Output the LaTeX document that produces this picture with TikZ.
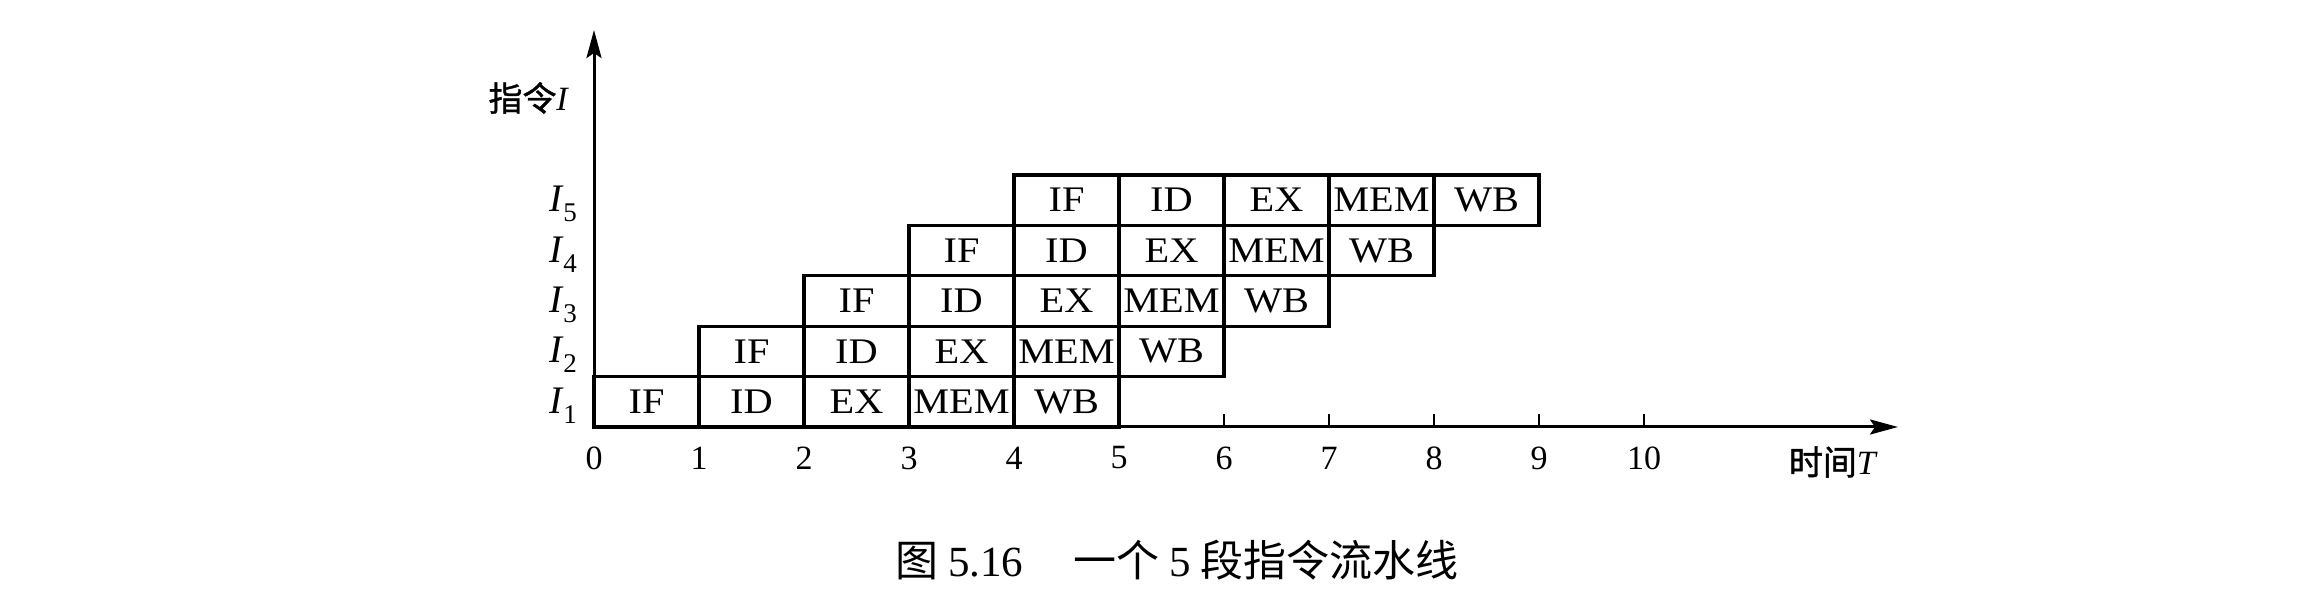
\documentclass[tikz,border=0pt]{standalone}
\usepackage{fontspec}
\setmainfont{Liberation Serif}
\newfontfamily\cjk{Noto Sans CJK SC}
\newfontfamily\cjkb{Noto Sans CJK SC}[FakeBold=1.2]
\newfontfamily\boxfont{Liberation Serif}[FakeStretch=1.12]
\usetikzlibrary{arrows.meta}
\begin{document}
\begin{tikzpicture}[x=1pt,y=-1pt,
  stagebox/.style={draw, line width=3.2pt, minimum width=105pt, minimum height=50.4pt,
    inner sep=0pt, outer sep=0pt, font=\fontsize{36}{36}\boxfont},
  axisline/.style={line width=3pt, -{Stealth[length=28pt,width=15pt,inset=5pt]}},
  tickline/.style={line width=2.5pt},
  ticklabel/.style={font=\fontsize{34}{34}\selectfont, inner sep=0pt},
  cnlabel/.style={font=\fontsize{34}{34}\cjkb, inner sep=0pt},
  rowlabel/.style={font=\fontsize{39}{39}\selectfont, inner sep=0pt, anchor=east},
  caption/.style={font=\fontsize{43}{43}\selectfont, inner sep=0pt, anchor=west}]
\useasboundingbox[fill=white] (0,0) rectangle (2322,593);
% stage boxes
\foreach \i in {1,...,5}{
  \foreach \s [count=\j from 0] in {IF,ID,EX,MEM,WB}{
    \node[stagebox] (b\i-\j) at ({594+105*(\i-1+\j)+52.5},{427-50.4*\i+25.2}) {\s};
  }
  \node[rowlabel] (r\i) at (577,{427-50.4*\i+29}) {\itshape I\kern1pt\raisebox{-10pt}{\fontsize{27}{27}\selectfont\upshape\i}};
}
% axes
\coordinate (O) at (594,427);
\coordinate (ytip) at (594,30);
\coordinate (xtip) at (1898,427);
\draw[axisline] (O) -- (ytip);
\draw[axisline] (O) -- (xtip);
% ticks
\foreach \k in {6,...,10}{
  \coordinate (t\k) at ({594+105*\k},427);
  \draw[tickline] (t\k) -- ++(0,-13);
}
\foreach \k in {0,...,10}{
  \node[ticklabel] (n\k) at ({594+105*\k},458) {\k};
}
% axis labels
\node[cnlabel, anchor=east] (ylabel) at (568,98) {指令{\rmfamily\itshape I}};
\node[cnlabel, anchor=east] (xlabel) at (1876,462) {时间{\rmfamily\itshape T}};
% caption
\node[caption] (cap) at (895,560) {{\cjk 图}\hspace{10pt}5.16\hspace{50pt}{\cjk 一个}\hspace{10pt}5\hspace{10pt}{\cjk 段指令流水线}};
\end{tikzpicture}
\end{document}
